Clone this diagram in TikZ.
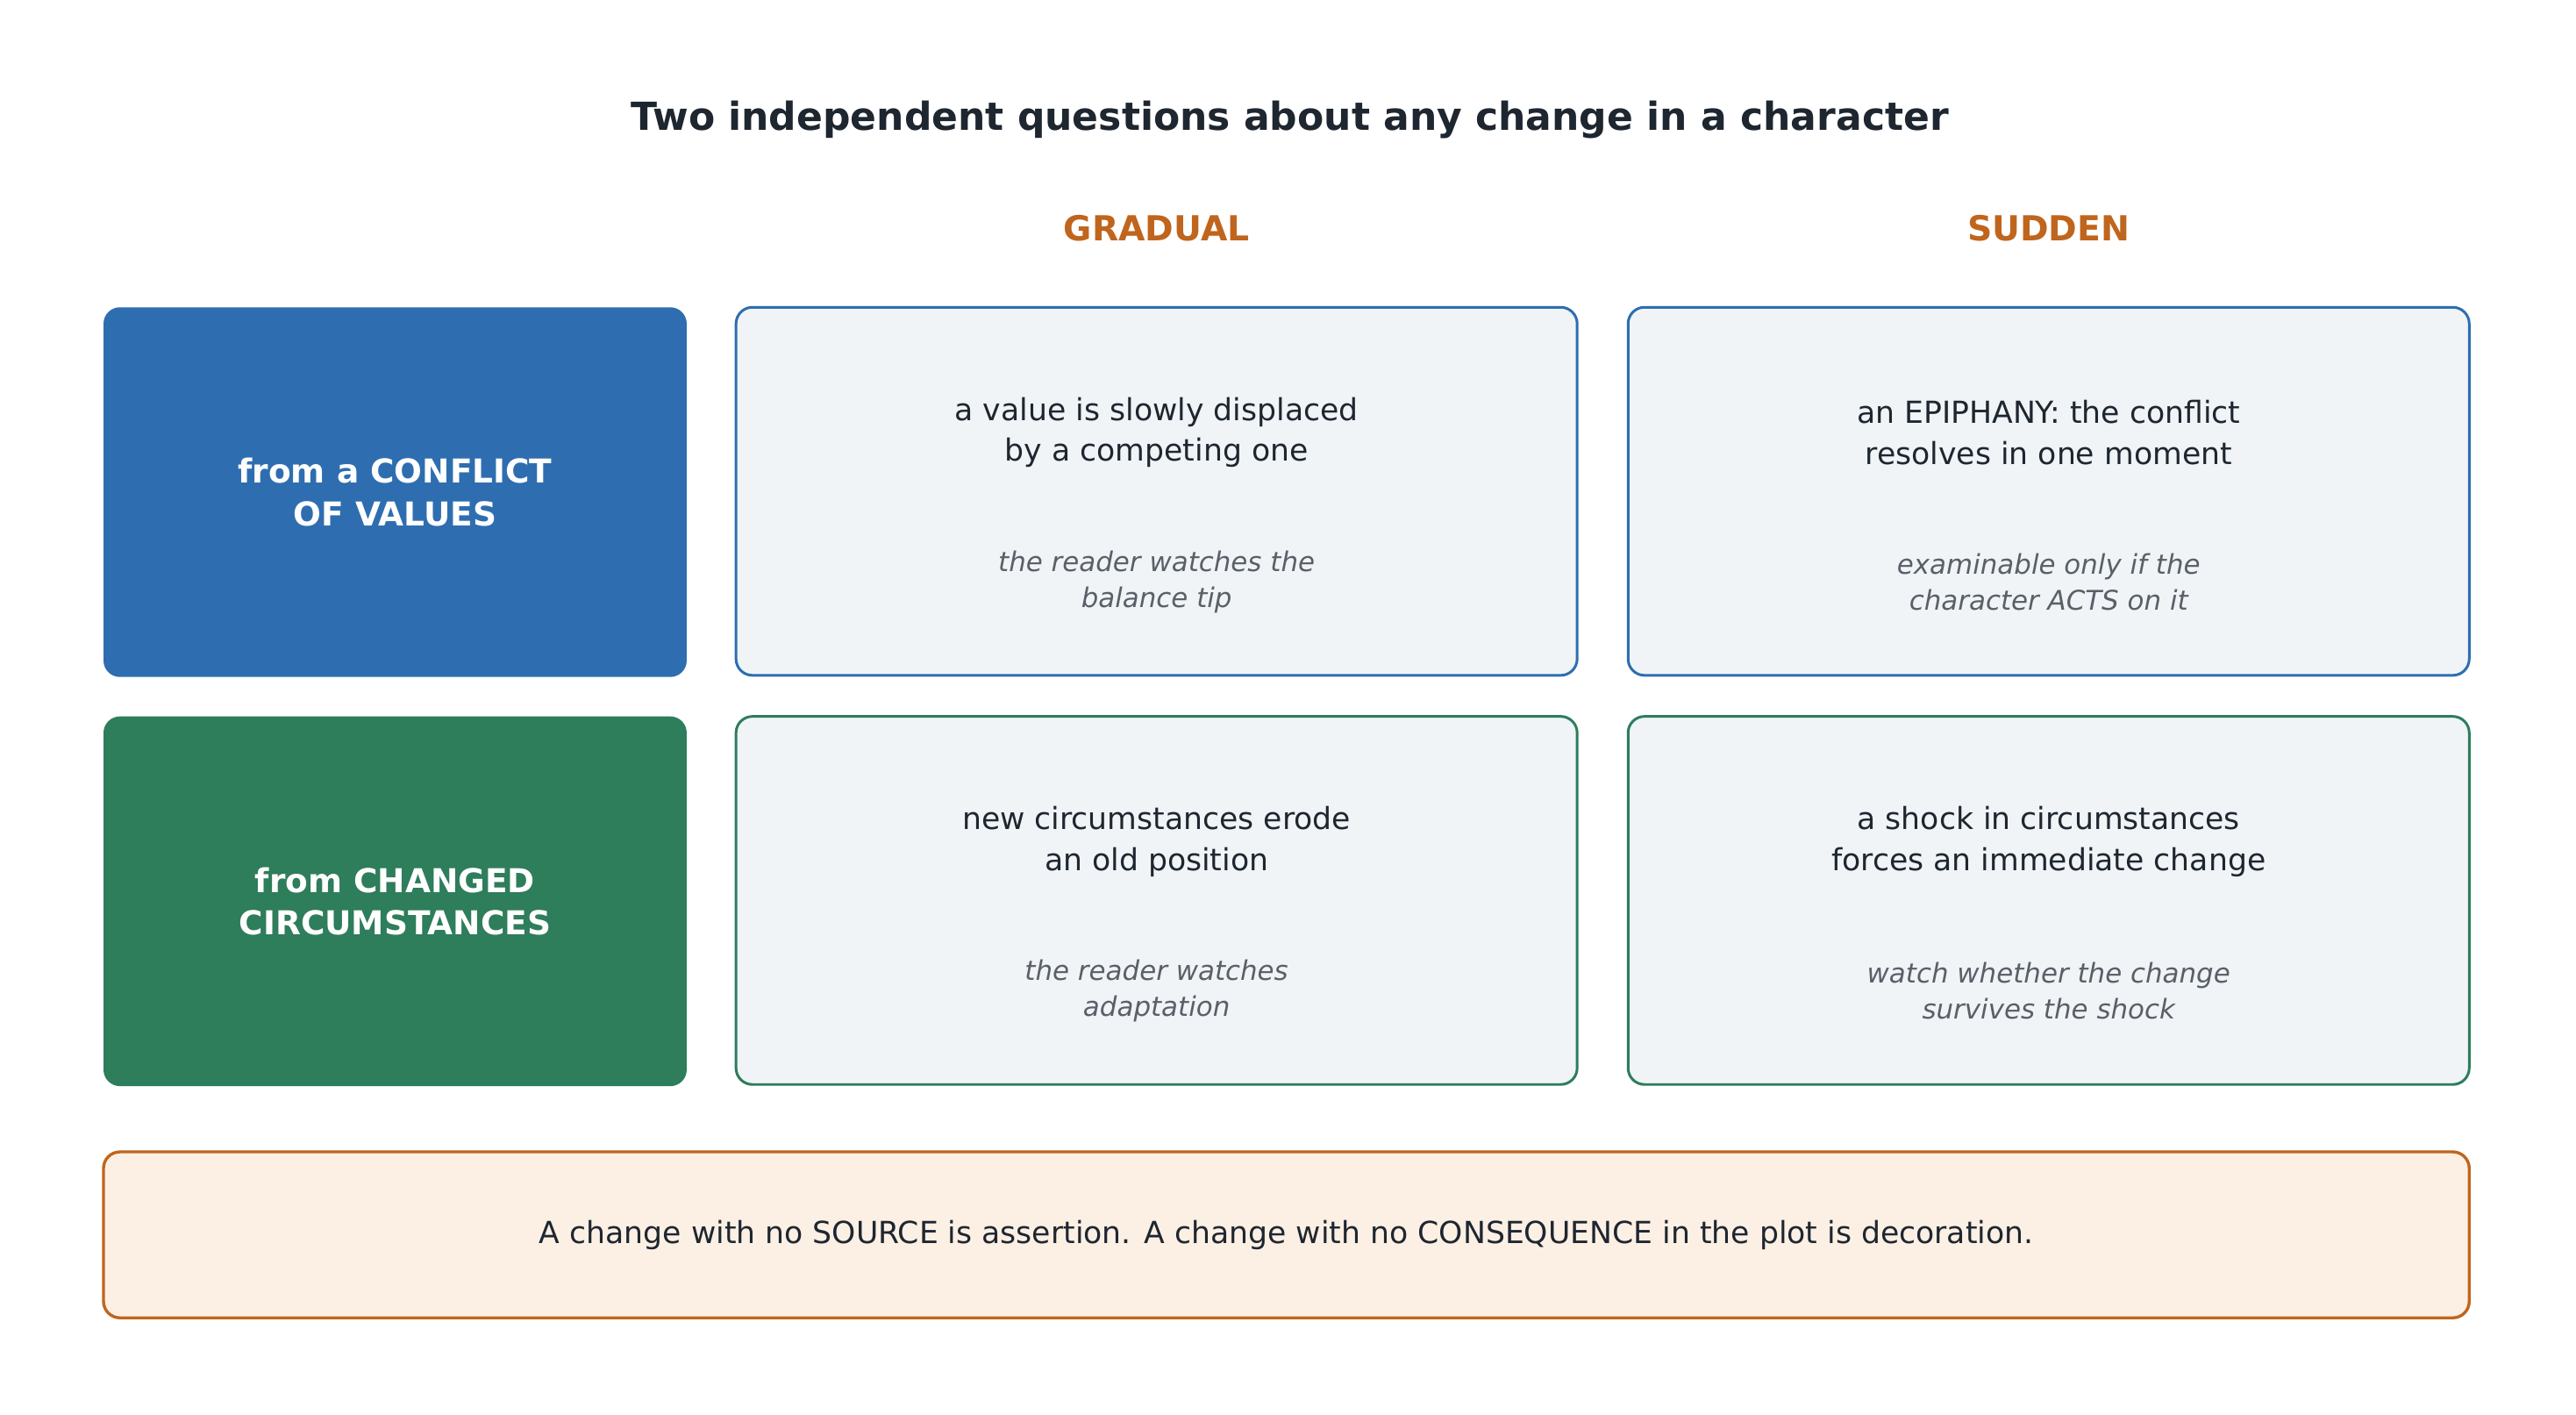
\documentclass[tikz,border=0pt]{standalone}
\usepackage{fontspec}
\setmainfont{DejaVu Sans}
\usetikzlibrary{positioning}
\definecolor{rowblue}{HTML}{2E6EB0}
\definecolor{rowgreen}{HTML}{2E7D5B}
\definecolor{accent}{HTML}{C0651D}
\definecolor{cellfill}{HTML}{F0F4F7}
\definecolor{notefill}{HTML}{FCF0E4}
\definecolor{ink}{HTML}{1E2630}
\definecolor{muted}{HTML}{5A6068}
\tikzset{
  rowhead/.style={rounded corners=10pt, minimum width=355pt, minimum height=225pt,
    text=white, align=center, font=\fontsize{20}{26}\selectfont\bfseries},
  cell/.style={draw, line width=1.6pt, fill=cellfill, rounded corners=10pt,
    minimum width=512pt, minimum height=224pt},
  main/.style={text=ink, align=center, font=\fontsize{18.5}{25}\selectfont},
  note/.style={text=muted, align=center, font=\fontsize{16.5}{22}\selectfont\itshape},
  colhead/.style={text=accent, font=\fontsize{21}{26}\selectfont\bfseries}
}
\begin{document}
\begin{tikzpicture}[x=1pt,y=-1pt]
    \useasboundingbox[fill=white] (0,0) rectangle (1568,861);
    \node[text=ink, font=\fontsize{23.5}{28}\selectfont\bfseries] (title) at (785,73) {Two independent questions about any change in a character};
    \node[colhead] (gradual) at (704,139) {GRADUAL};
    \node[colhead] (sudden) at (1247,139) {SUDDEN};
    % row heads
    \node[rowhead, fill=rowblue] (values) at (240.5,299.5) {from a CONFLICT\\OF VALUES};
    \node[rowhead, fill=rowgreen] (circ) at (240.5,548.5) {from CHANGED\\CIRCUMSTANCES};
    % cells
    \node[cell, draw=rowblue] (vg) at (704,299) {};
    \node[cell, draw=rowblue] (vs) at (1247,299) {};
    \node[cell, draw=rowgreen] (cg) at (704,548) {};
    \node[cell, draw=rowgreen] (cs) at (1247,548) {};
    \node[main] at ([yshift=-77pt]vg.north) {a value is slowly displaced\\by a competing one};
    \node[note] at ([yshift=-168pt]vg.north) {the reader watches the\\balance tip};
    \node[main] at ([yshift=-77pt]vs.north) {an EPIPHANY: the conflict\\resolves in one moment};
    \node[note] at ([yshift=-168pt]vs.north) {examinable only if the\\character ACTS on it};
    \node[main] at ([yshift=-77pt]cg.north) {new circumstances erode\\an old position};
    \node[note] at ([yshift=-168pt]cg.north) {the reader watches\\adaptation};
    \node[main] at ([yshift=-77pt]cs.north) {a shock in circumstances\\forces an immediate change};
    \node[note] at ([yshift=-168pt]cs.north) {watch whether the change\\survives the shock};
    % bottom note
    \node[draw=accent, line width=1.8pt, fill=notefill, rounded corners=10pt,
      minimum width=1440pt, minimum height=101pt, main] (moral) at (783,751.5)
      {A change with no SOURCE is assertion. A change with no CONSEQUENCE in the plot is decoration.};
\end{tikzpicture}
\end{document}
